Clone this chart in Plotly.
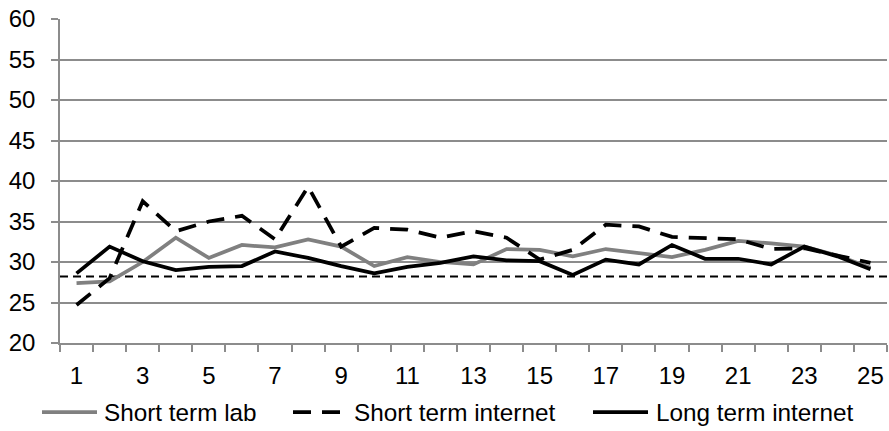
import plotly.graph_objects as go

trials = list(range(1, 26))
short_term_lab = [27.4, 27.6, 30.0, 33.0, 30.5, 32.1, 31.8, 32.8, 31.9, 29.5,
                  30.6, 30.0, 29.7, 31.6, 31.5, 30.7, 31.6, 31.1, 30.6, 31.5,
                  32.6, 32.3, 31.9, 30.8, 29.3]
short_term_internet = [24.7, 28.0, 37.5, 33.8, 35.0, 35.7, 32.8, 39.3, 31.9, 34.2,
                       34.0, 33.0, 33.8, 33.0, 30.3, 31.5, 34.6, 34.4, 33.1, 33.0,
                       32.8, 31.6, 31.7, 30.8, 29.9]
long_term_internet = [28.6, 31.9, 30.1, 29.0, 29.4, 29.5, 31.3, 30.5, 29.5, 28.6,
                      29.4, 29.9, 30.7, 30.2, 30.1, 28.4, 30.3, 29.7, 32.1, 30.4,
                      30.4, 29.7, 31.9, 30.7, 29.1]
baseline = 28.2
series_names = ["Short term lab", "Short term internet", "Long term internet"]
x_tick_labels = [str(v) for v in range(1, 26, 2)]
y_ticks = list(range(20, 61, 5))

FONT = "Liberation Sans, Arial, sans-serif"
GRID = "#8c8c8c"
W, H = 889, 431
ML, MR, MT, MB = 60, 2, 19, 88
PW, PH = W - ML - MR, H - MT - MB

styles = [dict(color="#808080", width=3.75, dash="solid"),
          dict(color="black", width=3.75, dash="18px,11px"),
          dict(color="black", width=3.75, dash="solid")]
series = [short_term_lab, short_term_internet, long_term_internet]

fig = go.Figure()
fig.add_trace(go.Scatter(x=[0.5, 25.5], y=[baseline, baseline], mode="lines",
                         line=dict(color="black", width=2, dash="8px,5px"),
                         showlegend=False, hoverinfo="skip"))
for name, vals, st in zip(series_names, series, styles):
    fig.add_trace(go.Scatter(x=trials, y=vals, mode="lines", name=name,
                             line=st, showlegend=False))

# manual legend (Excel-style long line samples)
def px_x(px):
    return (px - ML) / PW

def px_y(py):
    return (H - MB - py) / PH

legend_line_x = [(42, 97), (293, 342), (593, 648)]
legend_text_x = [102, 352, 654]
ly = 412
for (x0, x1), tx, name, st in zip(legend_line_x, legend_text_x, series_names, styles):
    fig.add_shape(type="line", xref="paper", yref="paper",
                  x0=px_x(x0), x1=px_x(x1), y0=px_y(ly), y1=px_y(ly),
                  line=dict(color=st["color"], width=st["width"], dash=st["dash"]))
    fig.add_annotation(xref="paper", yref="paper", x=px_x(tx), y=px_y(ly),
                       xanchor="left", yanchor="middle", text=name, showarrow=False,
                       font=dict(size=24.3, family=FONT, color="black"))

fig.update_layout(
    width=W, height=H,
    margin=dict(l=ML, r=MR, t=MT, b=MB, autoexpand=False),
    paper_bgcolor="white", plot_bgcolor="white",
    font=dict(family=FONT, size=24, color="black"),
    showlegend=False,
    xaxis=dict(range=[0.5, 25.5], tickmode="array", automargin=False,
               tickvals=list(range(1, 26, 2)), ticktext=x_tick_labels,
               ticks="", showgrid=False, zeroline=False,
               showline=True, linecolor=GRID, linewidth=1.5,
               minor=dict(tickmode="array", tickvals=[i + 0.5 for i in range(0, 26)],
                          ticks="outside", ticklen=7, tickcolor=GRID, tickwidth=1.5,
                          showgrid=False),
               ticklabelstandoff=10),
    yaxis=dict(range=[20, 60], tickmode="array", tickvals=y_ticks, automargin=False,
               ticks="outside", ticklen=7, tickcolor=GRID, tickwidth=1.5,
               showgrid=True, gridcolor=GRID, gridwidth=1.5, zeroline=False,
               showline=True, linecolor=GRID, linewidth=1.5,
               ticklabelstandoff=11),
)

fig.write_html("out.html", config={"displayModeBar": False},
               post_script="document.body.style.margin='0';document.body.style.overflow='hidden';")
